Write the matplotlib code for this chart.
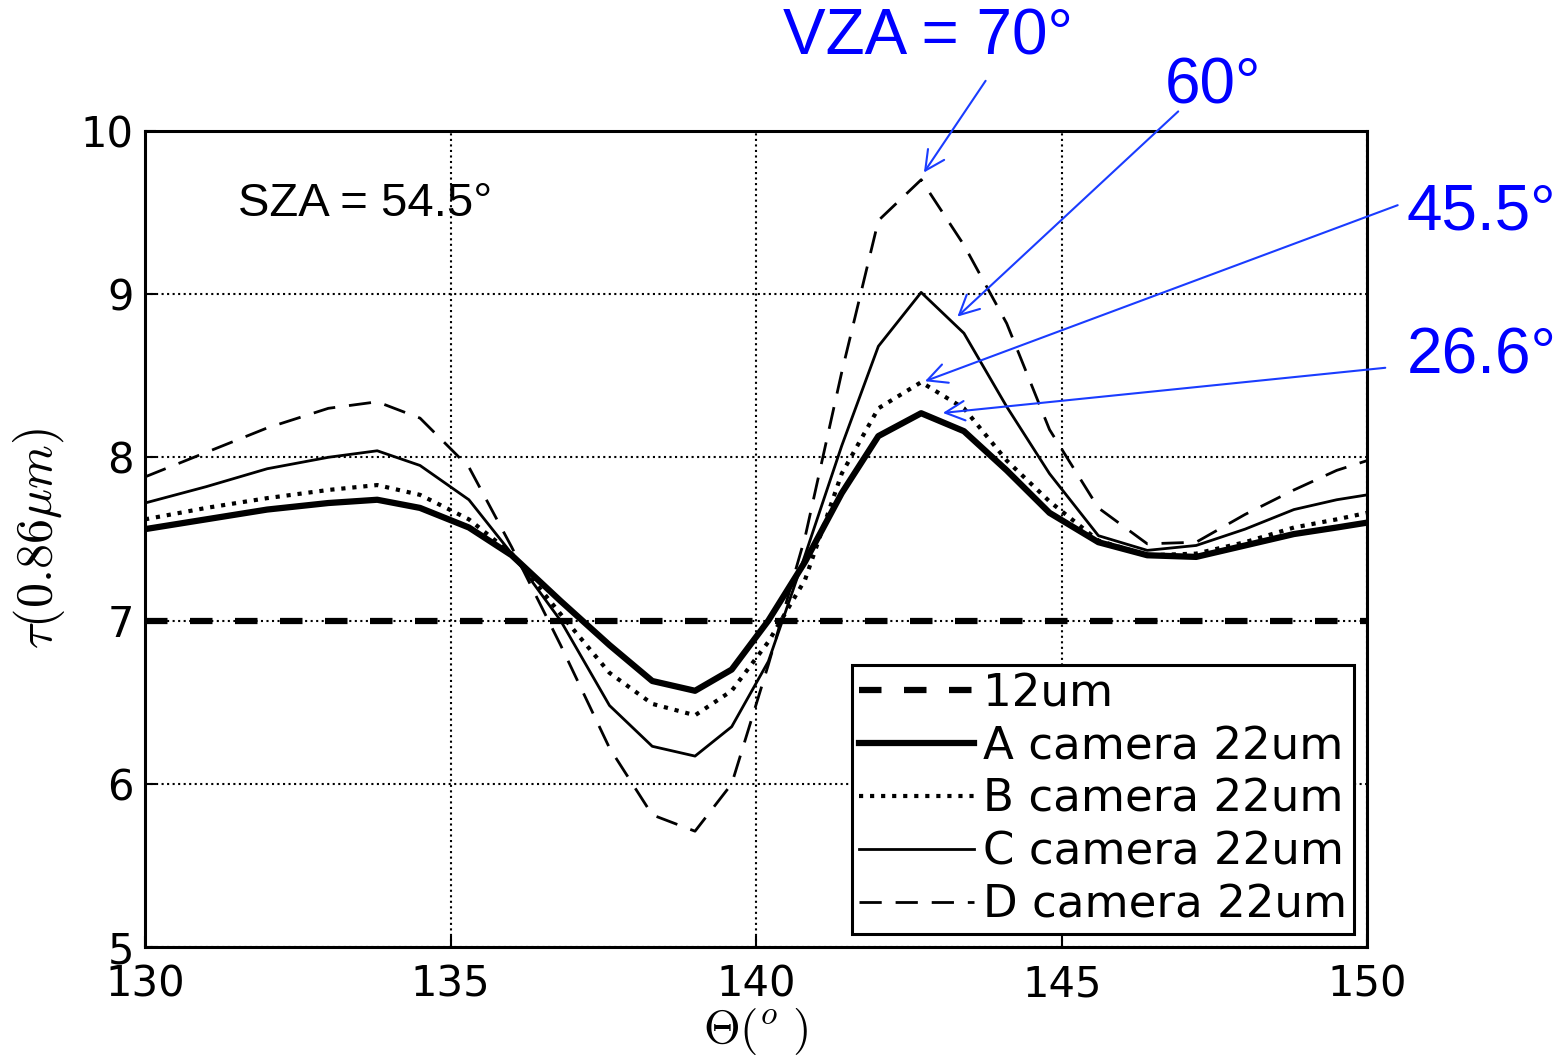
import numpy as np
import matplotlib
matplotlib.use('Agg')
from matplotlib import pyplot as plt

plt.rcParams['mathtext.fontset'] = 'cm'

theta = [130, 131, 132, 133, 133.8, 134.5, 135.3, 136, 136.8, 137.6, 138.3, 139, 139.6, 140.2,
         140.8, 141.4, 142, 142.7, 143.4, 144.1, 144.8, 145.6, 146.4, 147.2, 148, 148.8, 149.5, 150]
tau_a = [7.56, 7.62, 7.68, 7.72, 7.74, 7.69, 7.57, 7.40, 7.12, 6.85, 6.63, 6.57, 6.70, 7.00,
         7.36, 7.78, 8.13, 8.27, 8.16, 7.92, 7.66, 7.48, 7.40, 7.39, 7.46, 7.53, 7.57, 7.60]
tau_b = [7.62, 7.69, 7.75, 7.80, 7.83, 7.77, 7.62, 7.41, 7.04, 6.68, 6.49, 6.42, 6.57, 6.87,
         7.25, 7.90, 8.30, 8.46, 8.30, 7.98, 7.73, 7.49, 7.40, 7.41, 7.48, 7.57, 7.62, 7.66]
tau_c = [7.72, 7.82, 7.93, 8.00, 8.04, 7.95, 7.74, 7.41, 7.00, 6.48, 6.23, 6.17, 6.35, 6.75,
         7.40, 8.07, 8.68, 9.01, 8.76, 8.31, 7.90, 7.52, 7.43, 7.46, 7.56, 7.68, 7.74, 7.77]
tau_d = [7.88, 8.03, 8.18, 8.30, 8.34, 8.24, 7.94, 7.45, 6.85, 6.22, 5.81, 5.71, 6.00, 6.73,
         7.51, 8.52, 9.45, 9.70, 9.30, 8.82, 8.17, 7.69, 7.47, 7.48, 7.65, 7.80, 7.92, 7.98]
tau_12 = 7.0

vza_labels = ['VZA = 70°', '60°', '45.5°', '26.6°']
# text position, arrow start, arrow tip (data coords)
vza_text = [(142.81, 10.57), (147.48, 10.27), (150.65, 9.50), (150.65, 8.62)]
vza_from = [(143.78, 10.32), (146.94, 10.13), (150.54, 9.55), (150.34, 8.55)]
vza_tip = [(142.72, 9.73), (143.26, 8.85), (142.72, 8.46), (143.01, 8.27)]

fig = plt.figure(figsize=(15.66, 10.63), dpi=100)
ax = fig.add_axes([0.0926, 0.109, 0.7805, 0.768])

ax.plot([130, 150], [tau_12, tau_12], 'k--', lw=4.5, dashes=(3.6, 3.6), label='12um')
ax.plot(theta, tau_a, 'k-', lw=4.5, label='A camera 22um')
ax.plot(theta, tau_b, 'k:', lw=3, label='B camera 22um')
ax.plot(theta, tau_c, 'k-', lw=2, label='C camera 22um')
ax.plot(theta, tau_d, 'k--', lw=2, dashes=(8, 5), label='D camera 22um')

ax.set_xlim(130, 150)
ax.set_ylim(5, 10)
ax.set_xticks([130, 135, 140, 145, 150])
ax.set_yticks([5, 6, 7, 8, 9, 10])
ax.grid(True, color='k', linestyle=':', linewidth=1.5)
ax.tick_params(labelsize=30, direction='in', length=8, width=1.5)
ax.tick_params(axis='x', pad=12)
ax.tick_params(axis='y', pad=8)
for s in ax.spines.values():
    s.set_linewidth(2.2)

ax.set_xlabel(r'$\Theta(^o\ )$', fontsize=34, labelpad=0)
ax.set_ylabel(r'$\tau(0.86\mu m)$', fontsize=36, labelpad=10)

ax.text(131.52, 9.55, 'SZA = 54.5°', fontsize=34, family='Liberation Sans', va='center')

for i in range(len(vza_labels)):
    ha = 'center' if i < 2 else 'left'
    ax.text(vza_text[i][0], vza_text[i][1], vza_labels[i], fontsize=46, color='blue',
            family='Liberation Sans', ha=ha, va='center', clip_on=False)
    ax.annotate('', xy=vza_tip[i], xytext=vza_from[i], annotation_clip=False,
                arrowprops=dict(arrowstyle='->', color='#1a3cff', lw=1.5, mutation_scale=35))

leg = ax.legend(loc='lower right', fontsize=32.5, handlelength=2.55, handletextpad=0.2,
                labelspacing=0.22, borderpad=0.15, borderaxespad=0.3, fancybox=False,
                framealpha=1)
leg.get_frame().set_edgecolor('k')
leg.get_frame().set_linewidth(2.2)

plt.savefig('out.png', dpi=100)
